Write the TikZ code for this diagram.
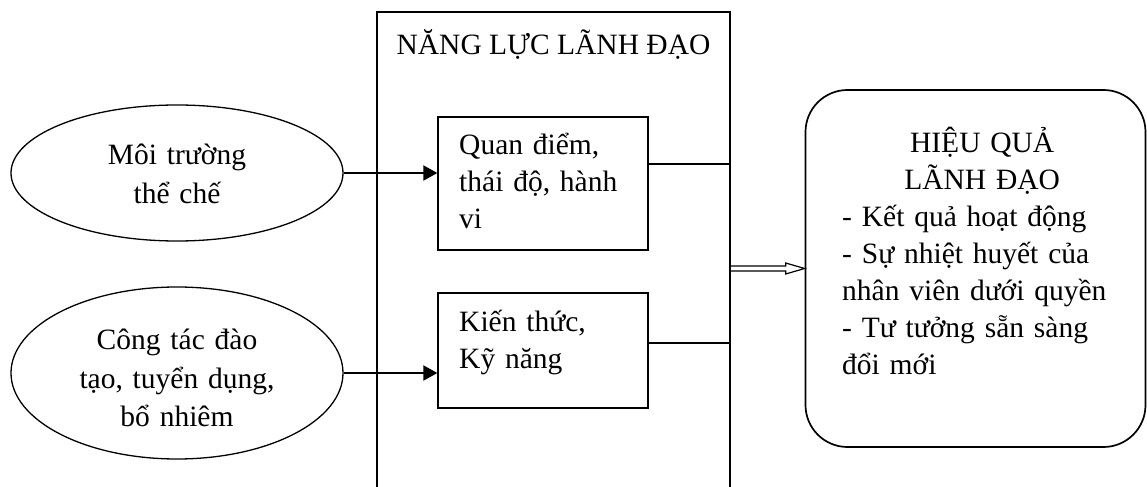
\documentclass[tikz,border=0pt]{standalone}
\usepackage{fontspec}
\setmainfont{Liberation Serif}
\usetikzlibrary{shapes.geometric,arrows.meta,calc}
\begin{document}
\begin{tikzpicture}[x=1bp,y=-1bp,
  txt/.style={font=\fontsize{29.5bp}{37bp}\selectfont, inner sep=0pt},
  otxt/.style={font=\fontsize{29.5bp}{38.5bp}\selectfont, inner sep=0pt, text width=300bp, align=center, anchor=base},
  oval/.style={draw, ellipse, line width=1.3bp, minimum width=332bp, inner sep=0pt},
  boxr/.style={draw, rectangle, line width=1.3bp, inner sep=0pt, minimum width=210bp},
  feed/.style={line width=2bp, -{Triangle[length=14bp,width=15bp]}},
  joinline/.style={line width=2.4bp},
  hollow/.style={line width=1.2bp, line join=miter}]
\useasboundingbox (0,0) rectangle (1147,487);
% outer frame
\draw[line width=1.2bp] (377,487) -- (377,12) -- (730,12) -- (730,487);
\node[txt, anchor=base] (title) at (553.5,55) {NĂNG LỰC LÃNH ĐẠO};
% ellipses
\node[oval, minimum height=136bp] (e1) at (177,173) {};
\node[oval, minimum height=172bp] (e2) at (177,373) {};
\node[otxt] (te1) at (177,165) {Môi trường\\thể chế};
\node[otxt] (te2) at (177,350) {Công tác đào\\tạo, tuyển dụng,\\bổ nhiêm};
% inner boxes
\node[boxr, minimum height=133bp] (b1) at (543,183.5) {};
\node[boxr, minimum height=115bp] (b2) at (543,350.5) {};
\node[txt, text width=180bp, align=left, anchor=base west] (t1) at (459,155) {Quan điểm,\\thái độ, hành\\vi};
\node[txt, text width=180bp, align=left, anchor=base west] (t2) at (459,332) {Kiến thức,\\Kỹ năng};
% result box
\node[draw, rectangle, rounded corners=42bp, line width=1.7bp, minimum width=340bp, minimum height=357bp] (res) at (975.5,268.5) {};
\node[txt, text width=280bp, align=left, anchor=base west] (t3) at (842,153) {{\centering HIỆU QUẢ\\LÃNH ĐẠO\par}- Kết quả hoạt động\\- Sự nhiệt huyết của\\nhân viên dưới quyền\\- Tư tưởng sẵn sàng\\đổi mới};
% feed arrows
\draw[feed] (e1.east) -- (e1.east -| b1.west);
\draw[feed] (e2.east) -- (e2.east -| b2.west);
% joining lines
\coordinate (j1) at (730,164);
\coordinate (j2) at (730,350);
\coordinate (j3) at (730,343);
\coordinate (mid) at (730,268.5);
\draw[joinline] (b1.east |- j1) -- (j1) -- (j2);
\draw[joinline] (b2.east |- j3) -- (j3);
% hollow arrow
\draw[hollow] ($(mid)+(0,-2.5)$) -- ($(res.west)+(-19,-2.5)$) -- ($(res.west)+(-19,-5.5)$) -- (res.west) -- ($(res.west)+(-19,5.5)$) -- ($(res.west)+(-19,2.5)$) -- ($(mid)+(0,2.5)$);
\end{tikzpicture}
\end{document}
